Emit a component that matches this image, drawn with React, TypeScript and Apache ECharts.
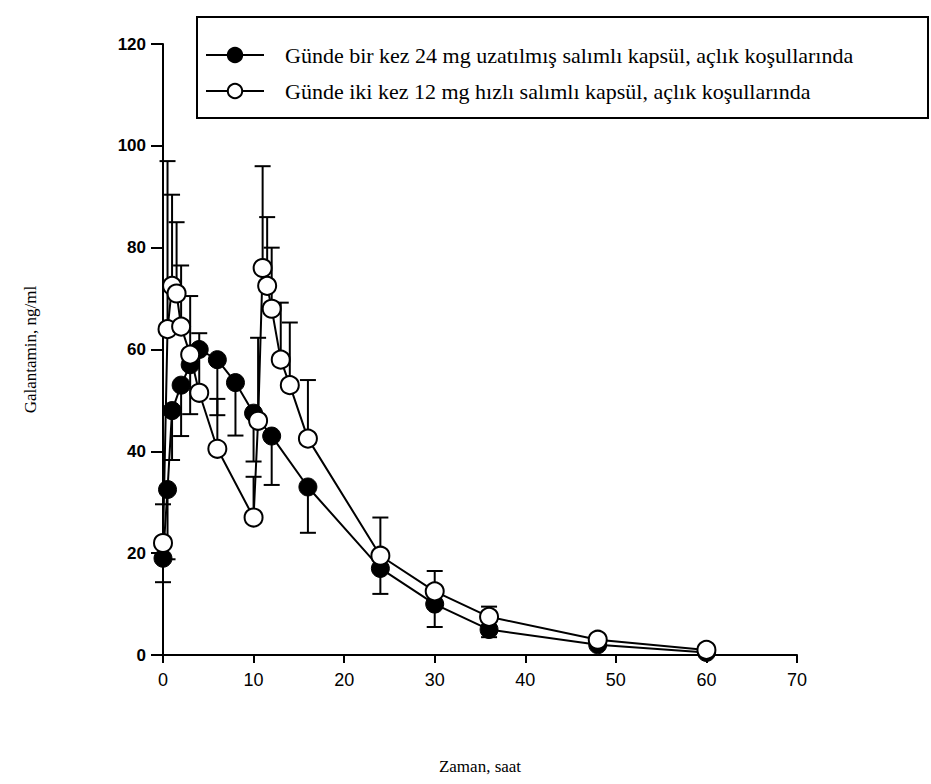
import React, { useEffect, useRef } from "react";
import * as echarts from "echarts";

// Uzatılmış salımlı (dolu daireler)
const erTimes = [0, 0.5, 1, 2, 3, 4, 6, 8, 10, 12, 16, 24, 30, 36, 48, 60];
const erMeans = [19, 32.5, 48, 53, 57, 60, 58, 53.5, 47.5, 43, 33, 17, 10, 5, 2, 0.5];
const erLow = [14.3, 18.8, 38.3, 43, 47.3, 60, 47.1, 43.1, 38, 33.4, 24, 12, 5.5, 3.5, 2, 0.5];
const erHigh = [19, 32.5, 48, 53, 57, 60, 58, 53.5, 47.5, 43, 33, 17, 10, 5, 2, 0.5];

// Hızlı salımlı (boş daireler)
const irTimes = [0, 0.5, 1, 1.5, 2, 3, 4, 6, 10, 10.5, 11, 11.5, 12, 13, 14, 16, 24, 30, 36, 48, 60];
const irMeans = [22, 64, 72.5, 71, 64.5, 59, 51.5, 40.5, 27, 46, 76, 72.5, 68, 58, 53, 42.5, 19.5, 12.5, 7.5, 3, 1];
const irLow = [22, 64, 72.5, 71, 64.5, 59, 51.5, 40.5, 27, 46, 76, 72.5, 68, 58, 53, 42.5, 19.5, 12.5, 7.5, 3, 1];
const irHigh = [29.6, 97, 90.4, 85, 76.5, 70.5, 63.2, 50.3, 35, 62.3, 96, 86, 80, 69.2, 65.3, 54, 27, 16.5, 9.5, 3, 1];

const seriesNames = [
  "Günde bir kez 24 mg uzatılmış salımlı kapsül, açlık koşullarında",
  "Günde iki kez 12 mg hızlı salımlı kapsül, açlık koşullarında",
];
const xTitle = "Zaman, saat";
const yTitle = "Galantamin, ng/ml";

function errData(t: number[], m: number[], lo: number[], hi: number[]) {
  return t.map((x, i) => [x, lo[i], hi[i], m[i]]);
}

function renderErr(params: any, api: any) {
  const x = api.value(0);
  const lo = api.value(1);
  const hi = api.value(2);
  const m = api.value(3);
  const pLo = api.coord([x, lo]);
  const pHi = api.coord([x, hi]);
  const hw = 8;
  const style = { stroke: "#000", lineWidth: 2 };
  const children: any[] = [];
  if (hi > m || lo < m) {
    children.push({ type: "line", shape: { x1: pLo[0], y1: pLo[1], x2: pHi[0], y2: pHi[1] }, style });
  }
  if (hi > m) {
    children.push({ type: "line", shape: { x1: pHi[0] - hw, y1: pHi[1], x2: pHi[0] + hw, y2: pHi[1] }, style });
  }
  if (lo < m) {
    children.push({ type: "line", shape: { x1: pLo[0] - hw, y1: pLo[1], x2: pLo[0] + hw, y2: pLo[1] }, style });
  }
  return { type: "group", children };
}

export default function App() {
  const ref = useRef<HTMLDivElement>(null);
  useEffect(() => {
    document.body.style.margin = "0";
    const chart = echarts.init(ref.current!, null, { renderer: "svg" });
    chart.setOption({
      animation: false,
      backgroundColor: "#fff",
      grid: { left: 163, right: 134, top: 44, bottom: 129 },
      graphic: [
        {
          type: "rect",
          shape: { x: 197, y: 17, width: 731, height: 101 },
          style: { fill: "none", stroke: "#000", lineWidth: 2 },
          z: 10,
        },
      ],
      legend: {
        left: 200,
        top: 39,
        orient: "vertical",
        itemWidth: 58,
        itemHeight: 18,
        itemGap: 14,
        data: seriesNames,
        textStyle: {
          fontFamily: "Liberation Serif",
          fontSize: 22,
          color: "#000",
          padding: [0, 0, 0, 16],
        },
      },
      xAxis: {
        type: "value",
        min: 0,
        max: 70,
        interval: 10,
        name: xTitle,
        nameLocation: "middle",
        nameGap: 103,
        nameTextStyle: { fontFamily: "Liberation Serif", fontSize: 17, color: "#000" },
        axisLine: { lineStyle: { color: "#000", width: 2 } },
        axisTick: { length: 8, lineStyle: { color: "#000", width: 2 } },
        axisLabel: { margin: 16, fontFamily: "Liberation Sans", fontSize: 18, color: "#000" },
        splitLine: { show: false },
      },
      yAxis: {
        type: "value",
        min: 0,
        max: 120,
        interval: 20,
        name: yTitle,
        nameLocation: "middle",
        nameGap: 124,
        nameRotate: 90,
        nameTextStyle: { fontFamily: "Liberation Serif", fontSize: 17, color: "#000" },
        axisLine: { lineStyle: { color: "#000", width: 2 } },
        axisTick: { length: 12, lineStyle: { color: "#000", width: 2 } },
        axisLabel: {
          margin: 17,
          fontFamily: "Liberation Sans",
          fontWeight: "bold",
          fontSize: 17,
          color: "#000",
        },
        splitLine: { show: false },
      },
      series: [
        {
          name: "errER",
          type: "custom",
          renderItem: renderErr,
          data: errData(erTimes, erMeans, erLow, erHigh),
          z: 1,
        },
        {
          name: "errIR",
          type: "custom",
          renderItem: renderErr,
          data: errData(irTimes, irMeans, irLow, irHigh),
          z: 1,
        },
        {
          name: seriesNames[0],
          type: "line",
          data: erTimes.map((t, i) => [t, erMeans[i]]),
          symbol: "circle",
          symbolSize: 18,
          lineStyle: { color: "#000", width: 2 },
          itemStyle: { color: "#000", borderColor: "#000", borderWidth: 1 },
          z: 3,
        },
        {
          name: seriesNames[1],
          type: "line",
          data: irTimes.map((t, i) => [t, irMeans[i]]),
          symbol: "circle",
          symbolSize: 18,
          lineStyle: { color: "#000", width: 2 },
          itemStyle: { color: "#fff", borderColor: "#000", borderWidth: 2 },
          z: 4,
        },
      ],
    });
    return () => chart.dispose();
  }, []);
  return <div ref={ref} style={{ position: "fixed", left: 0, top: 0, width: 931, height: 784 }} />;
}
